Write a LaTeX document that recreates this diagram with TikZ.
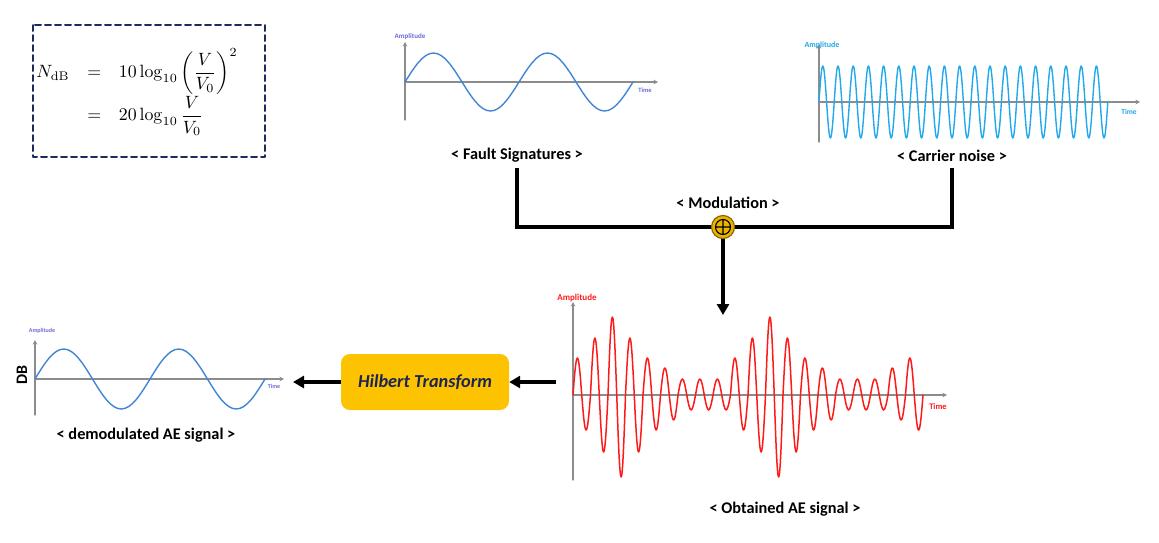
\documentclass[tikz,border=0pt]{standalone}
\usepackage{amsmath}
\usepackage[no-math]{fontspec}
\setmainfont{Carlito}
\usetikzlibrary{arrows.meta}
\definecolor{framenavy}{HTML}{1F2A5C}
\definecolor{axisgray}{HTML}{8C8C8C}
\definecolor{faultblue}{HTML}{4285D4}
\definecolor{labelblue}{HTML}{6A6AD8}
\definecolor{carriercyan}{HTML}{22A8EC}
\definecolor{aered}{HTML}{FF1A1A}
\definecolor{gold}{HTML}{FDC300}
\definecolor{golddark}{HTML}{8A6A00}
\definecolor{hilbertnavy}{HTML}{1B2455}
\tikzset{
  axis/.style={draw=axisgray,line width=1.1pt,-{Stealth[length=4.5pt,width=4.5pt]}},
  caption/.style={font=\fontsize{16.3}{19}\selectfont\bfseries,inner sep=1pt},
  tinylabel/.style={font=\fontsize{#1}{#1}\selectfont\bfseries,inner sep=0pt},
  modline/.style={line width=3.8pt,line cap=butt,line join=miter},
  bigarrow/.style={line width=3.6pt,line cap=butt,-{Triangle[length=11pt,width=12pt]}},
}
\begin{document}
\begin{tikzpicture}[x=1pt,y=-1pt,line cap=round,line join=round,>=latex]
  \useasboundingbox (0,0) rectangle (1159,542);
  % formula
  \draw[framenavy,line width=2pt,dash pattern=on 6pt off 4pt] (33,25) rectangle (265,157);
  \node[scale=1.78] (eq) at (137,92)
    {$\begin{array}{rcl}
      N_{\mathrm{dB}} & = & 10\log_{10}\left(\dfrac{V}{V_0}\right)^{2}\\[7pt]
                      & = & 20\log_{10}\dfrac{V}{V_0}
    \end{array}$};
  % fault signatures
  \draw[axis] (405,120) -- (405,42);
  \draw[axis] (405,82) -- (658,82);
  \node[tinylabel=7,text=labelblue] (fsamp) at (410,37) {Amplitude};
  \node[tinylabel=6.5,text=labelblue] (fstime) at (645,90) {Time};
  \draw[faultblue,line width=1.4pt] (405,82)
    \foreach \k in {1,2} { sin ++(28.5,-29) cos ++(28.5,29) sin ++(28.5,29) cos ++(28.5,-29) };
  \node[caption] (fs) at (517,155) {< Fault Signatures >};
  % carrier noise
  \draw[axis] (819,142) -- (819,44);
  \draw[axis] (819,102) -- (1140,102);
  \node[tinylabel=8,text=carriercyan] (cnamp) at (822,45) {Amplitude};
  \node[tinylabel=7.5,text=carriercyan] (cntime) at (1129,112) {Time};
  \draw[carriercyan,line width=1.4pt] (819,102)
    \foreach \k in {1,...,19} { sin ++(3.8,-36) cos ++(3.8,36) sin ++(3.8,36) cos ++(3.8,-36) };
  \node[caption] (cn) at (952,156) {< Carrier noise >};
  % modulation
  \node[caption] (mod) at (728,203) {< Modulation >};
  \node[circle,fill=gold!92!black,draw=golddark,line width=1.2pt,minimum size=23pt,inner sep=0pt] (sum) at (723,227) {};
  \draw[modline] (fs.south) ++(0,5) |- (sum.west);
  \draw[modline] (cn.south) ++(0,5) |- (sum.east);
  \draw[line width=1.1pt] (sum.center) circle (7.5pt)
    ([yshift=-7.5pt]sum.center) -- ([yshift=7.5pt]sum.center)
    ([xshift=-7.5pt]sum.center) -- ([xshift=7.5pt]sum.center);
  \coordinate (aein) at (723,315);
  \draw[bigarrow] (sum.south) -- (aein);
  % obtained AE signal
  \draw[axis] (573,480) -- (573,302);
  \draw[axis] (573,395) -- (947,395);
  \node[tinylabel=9,text=aered] (aeamp) at (577,298) {Amplitude};
  \node[tinylabel=8.5,text=aered] (aetime) at (938,407) {Time};
  \draw[aered,line width=1.5pt] (573,395)
    \foreach \pk/\tr in {37/35,57/57,78/82,57/57,37/35,27/25,16/15,16/15,16/15,37/35,
                         57/57,78/82,57/57,37/35,27/25,16/15,16/15,16/15,27/25,37/35}
    { sin ++(4.375,-\pk) cos ++(4.375,\pk) sin ++(4.375,\tr) cos ++(4.375,-\tr) };
  \node[caption] (ae) at (785,509) {< Obtained AE signal >};
  % hilbert transform
  \node[fill=gold,rounded corners=9pt,minimum width=168pt,minimum height=56pt,inner sep=0pt,
        text=hilbertnavy,font=\fontsize{18.3}{21}\selectfont\bfseries\itshape] (ht) at (425,382) {Hilbert Transform};
  \coordinate (aeout) at (556,382);
  \coordinate (demin) at (293,382);
  \draw[bigarrow] (aeout) -- (ht.east);
  \draw[bigarrow] (ht.west) -- (demin);
  % demodulated AE signal
  \draw[axis] (35,415) -- (35,340);
  \draw[axis] (35,379) -- (284,379);
  \node[tinylabel=6,text=labelblue] (dmamp) at (42,331) {Amplitude};
  \node[tinylabel=6,text=labelblue] (dmtime) at (274,386) {Time};
  \draw[faultblue,line width=1.4pt] (35,379)
    \foreach \k in {1,2} { sin ++(28.75,-30) cos ++(28.75,30) sin ++(28.75,30) cos ++(28.75,-30) };
  \node[font=\fontsize{16}{18}\selectfont\bfseries,rotate=90] (db) at (22,375) {DB};
  \node[caption] (dm) at (146,435) {< demodulated AE signal >};
\end{tikzpicture}
\end{document}
